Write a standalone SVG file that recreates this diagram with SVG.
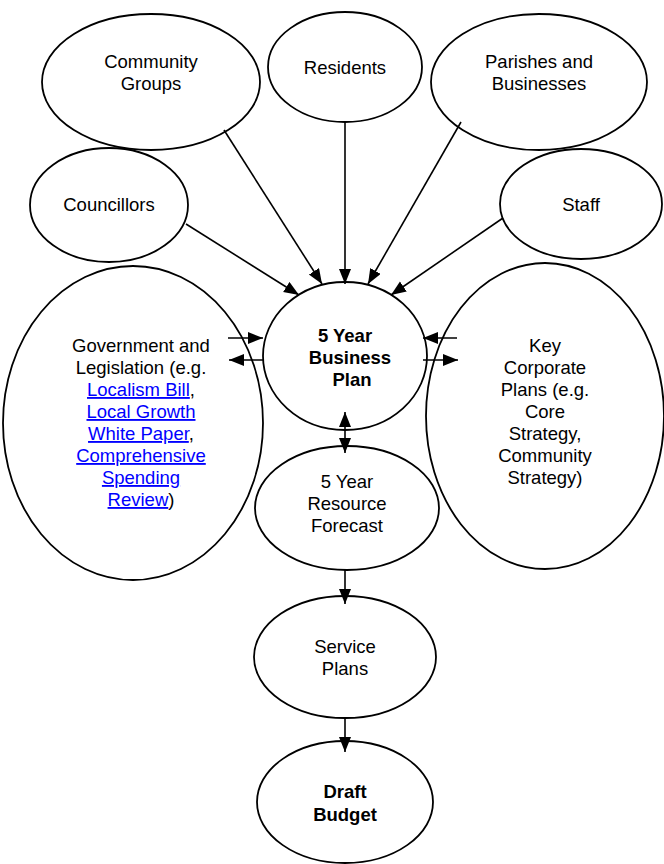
<svg xmlns="http://www.w3.org/2000/svg" width="664" height="864" viewBox="0 0 664 864">
<defs>
<marker id="ah" markerUnits="userSpaceOnUse" markerWidth="16" markerHeight="13" refX="15" refY="6" orient="auto-start-reverse"><path d="M0,0 L15,6 L0,12 z" fill="#000"/></marker>
<style>
.n{fill:none;stroke:#000;stroke-width:1.8}
.t{font-family:"Liberation Sans",Arial,sans-serif;font-size:18.5px;fill:#000;text-anchor:middle}
.b{font-weight:bold}
.l{fill:#0000ff;text-decoration:underline}
.c{stroke:#000;stroke-width:1.6;fill:none;marker-end:url(#ah)}
</style>
</defs>
<rect width="664" height="864" fill="#fff"/>
<g id="community"><ellipse class="n" cx="151" cy="82" rx="109" ry="68"/><text class="t" x="151" y="68">Community</text><text class="t" x="151" y="90">Groups</text></g>
<g id="residents"><ellipse class="n" cx="345" cy="67" rx="77" ry="55"/><text class="t" x="345" y="74">Residents</text></g>
<g id="parishes"><ellipse class="n" cx="539" cy="82" rx="108" ry="68"/><text class="t" x="539" y="68">Parishes and</text><text class="t" x="539" y="90">Businesses</text></g>
<g id="councillors"><ellipse class="n" cx="109" cy="205" rx="79" ry="57"/><text class="t" x="109" y="211">Councillors</text></g>
<g id="staff"><ellipse class="n" cx="581" cy="204" rx="81" ry="55"/><text class="t" x="581" y="211">Staff</text></g>
<g id="government"><ellipse class="n" cx="133" cy="423" rx="130" ry="157"/>
<text class="t" x="141" y="352">Government and</text>
<text class="t" x="141" y="374">Legislation (e.g.</text>
<text class="t" x="141" y="396"><tspan class="l">Localism Bill</tspan>,</text>
<text class="t" x="141" y="418"><tspan class="l">Local Growth</tspan></text>
<text class="t" x="141" y="440"><tspan class="l">White Paper</tspan>,</text>
<text class="t" x="141" y="462"><tspan class="l">Comprehensive</tspan></text>
<text class="t" x="141" y="484"><tspan class="l">Spending</tspan></text>
<text class="t" x="141" y="506"><tspan class="l">Review</tspan>)</text>
</g>
<g id="businessplan"><ellipse class="n" cx="345" cy="356" rx="82" ry="74"/>
<text class="t b" x="345" y="342">5 Year</text><text class="t b" x="350" y="364">Business</text><text class="t b" x="352" y="386">Plan</text></g>
<g id="corporate"><ellipse class="n" cx="545" cy="416" rx="119" ry="153"/>
<text class="t" x="545" y="352">Key</text>
<text class="t" x="545" y="374">Corporate</text>
<text class="t" x="545" y="396">Plans (e.g.</text>
<text class="t" x="545" y="418">Core</text>
<text class="t" x="545" y="440">Strategy,</text>
<text class="t" x="545" y="462">Community</text>
<text class="t" x="545" y="484">Strategy)</text>
</g>
<g id="forecast"><ellipse class="n" cx="347" cy="508" rx="92" ry="62"/><text class="t" x="347" y="488">5 Year</text><text class="t" x="347" y="510">Resource</text><text class="t" x="347" y="532">Forecast</text></g>
<g id="service"><ellipse class="n" cx="345" cy="657" rx="91" ry="61"/><text class="t" x="345" y="653">Service</text><text class="t" x="345" y="675">Plans</text></g>
<g id="draft"><ellipse class="n" cx="345" cy="802" rx="88" ry="61"/><text class="t b" x="345" y="798">Draft</text><text class="t b" x="345" y="821">Budget</text></g>
<g id="connectors">
<line class="c" x1="224" y1="130" x2="322" y2="284"/>
<line class="c" x1="345" y1="122" x2="345" y2="284"/>
<line class="c" x1="461" y1="122" x2="368" y2="284"/>
<line class="c" x1="186" y1="224" x2="299" y2="295"/>
<line class="c" x1="503" y1="218" x2="391" y2="295"/>
<line class="c" x1="228" y1="338" x2="263" y2="338"/>
<line class="c" x1="263" y1="360" x2="229" y2="360"/>
<line class="c" x1="457" y1="338" x2="423" y2="338"/>
<line class="c" x1="423" y1="360" x2="458" y2="360"/>
<line class="c" x1="345" y1="412" x2="345" y2="453" style="marker-start:url(#ah)"/>
<line class="c" x1="345" y1="570" x2="345" y2="604"/>
<line class="c" x1="345" y1="718" x2="345" y2="752"/>
</g>
</svg>
